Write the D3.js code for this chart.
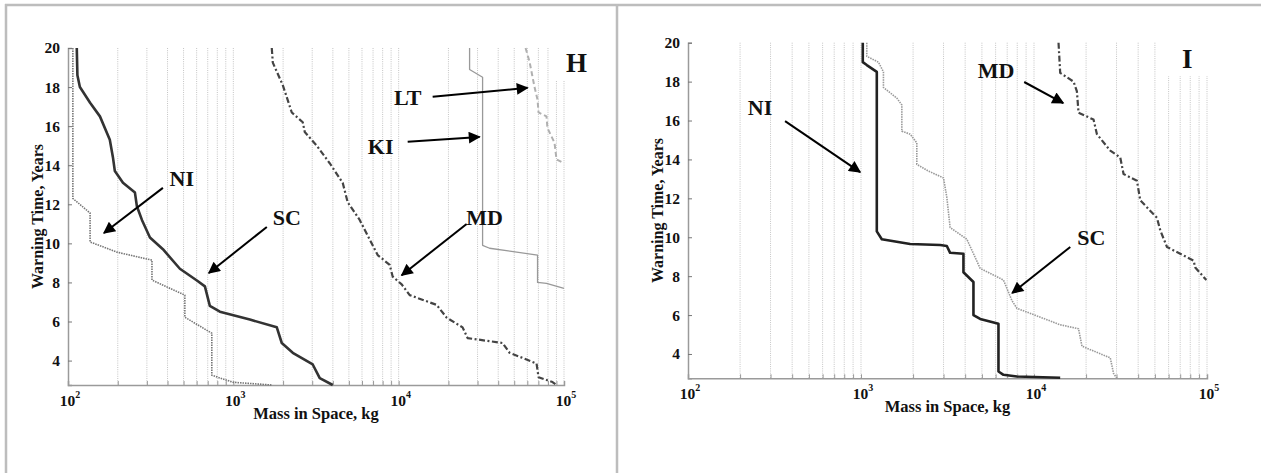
<!DOCTYPE html>
<html>
<head>
<meta charset="utf-8">
<script src="https://cdn.jsdelivr.net/npm/d3@7"></script>
<style>
  body { margin: 0; background: #fff; }
  svg { display: block; }
  text { font-family: "Liberation Serif", "Times New Roman", serif; font-weight: bold; fill: #111; }
</style>
</head>
<body>
<svg id="chart" width="1261" height="473"></svg>
<script>
// [mass in space (kg), warning time (years)]

// panel H
const hSC = [[113,20],[114,18.6],[118,18.0],[136,17.2],[156,16.5],[179,15.3],[187,14.4],[192,13.7],[215,13.1],[254,12.6],[261,11.9],[280,11.2],[313,10.3],[375,9.7],[475,8.7],[602,8.1],[673,7.8],[721,6.8],[829,6.5],[1258,6.1],[1832,5.7],[1963,4.9],[2288,4.4],[3022,3.8],[3332,3.1],[3992,2.75]]
const hNI = [[107,20],[107,12.3],[136,11.55],[136,10.07],[198,9.55],[322,9.14],[322,8.12],[509,7.35],[509,6.22],[741,5.4],[741,3.25],[993,2.89],[1708,2.75]]
const hMD = [[1708,20],[1733,19.25],[1991,18.1],[2257,16.7],[2630,16.2],[2704,15.7],[3195,15.0],[3829,14.1],[4587,13.1],[4918,12.1],[5812,11.2],[6230,10.7],[7466,9.4],[8823,8.9],[9198,8.3],[10430,7.9],[11660,7.35],[16970,6.85],[19500,6.2],[24360,5.7],[26120,5.15],[42480,4.9],[46860,4.4],[68220,3.85],[70150,3.15],[85200,2.9],[90100,2.75]]
const hKI = [[26850,20],[26850,18.9],[32180,18.5],[32180,9.9],[35460,9.75],[69180,9.4],[69180,8.0],[78360,7.95],[100000,7.7]]
const hLT = [[58550,20],[61880,19.3],[66330,18.0],[69180,17.35],[70150,16.7],[78360,16.5],[79440,15.9],[87600,15.15],[90100,14.3],[100000,14.1]]

// panel I
const iNI = [[1024,20],[1024,19.0],[1080,18.85],[1234,18.5],[1234,10.3],[1319,9.9],[1923,9.65],[2868,9.6],[3134,9.55],[3275,9.2],[3910,9.15],[3910,8.2],[4467,7.7],[4467,6.0],[4885,5.8],[6232,5.55],[6232,3.1],[6662,2.93],[7963,2.84],[14170,2.78]]
const iSC = [[1080,20],[1080,19.3],[1261,19.0],[1348,18.5],[1348,17.7],[1611,17.15],[1722,16.8],[1722,15.45],[1923,15.3],[2102,14.85],[2102,13.75],[2454,13.4],[2998,13.05],[3134,12.05],[3275,10.5],[4091,9.9],[4885,8.4],[6662,7.8],[7451,6.75],[7963,6.35],[14170,5.5],[18090,5.3],[18930,4.4],[27590,3.8],[28830,3.0],[30170,2.75]]
const iMD = [[13860,20],[14170,18.45],[16930,18.0],[17700,17.5],[18090,16.4],[22080,16.05],[23110,15.3],[27590,14.45],[31520,14.1],[32940,13.25],[39370,12.9],[41130,11.9],[51380,11.0],[53700,10.35],[58710,9.5],[83630,8.8],[85540,8.45],[99100,7.8]]

const yTicks = [4, 6, 8, 10, 12, 14, 16, 18, 20]
const xDecades = [1e2, 1e3, 1e4, 1e5]
const yDomain = [2.75, 20]
const xDomain = [1e2, 1e5]

// annotations: label at [mass, years], arrow from -> to
const hNotes = [
  { text: "NI", at: [488, 13.35], from: [375, 12.84], to: [165, 10.53] },
  { text: "SC", at: [2105, 11.35], from: [1594, 10.84], to: [711, 8.48] },
  { text: "MD", at: [33080, 11.35], from: [25760, 10.99], to: [10430, 8.37] },
  { text: "LT", at: [11340, 17.5], from: [16050, 17.5], to: [60190, 17.96] },
  { text: "KI", at: [7783, 14.99], from: [11340, 15.2], to: [30860, 15.45] }
]
const iNotes = [
  { text: "NI", at: [261, 16.69], from: [364, 15.97], to: [988, 13.35] },
  { text: "MD", at: [6045, 18.59], from: [8777, 17.98], to: [14750, 16.9] },
  { text: "SC", at: [21420, 10.01], from: [16200, 9.5], to: [7479, 7.13] }
]

const styles = {
  scH: { stroke: "#333", width: 2.6 },
  niH: { stroke: "#777", width: 1.6, dash: "1.5,1" },
  md:  { stroke: "#444", width: 2.2, dash: "6,2.5,2,2.5" },
  ki:  { stroke: "#999", width: 1.3 },
  lt:  { stroke: "#b0b0b0", width: 2, dash: "5,3" },
  niI: { stroke: "#222", width: 2.6 },
  scI: { stroke: "#999", width: 1.6, dash: "1.5,1" }
}

const panels = [
  {
    letter: "H", letterAt: [119000, 19.25],
    left: 68, right: 564, top: 48, bottom: 385,
    series: [
      { data: hNI, style: styles.niH },
      { data: hKI, style: styles.ki },
      { data: hLT, style: styles.lt },
      { data: hMD, style: styles.md },
      { data: hSC, style: styles.scH }
    ],
    notes: hNotes
  },
  {
    letter: "I", letterAt: [76910, 19.21],
    left: 688, right: 1207, top: 42.7, bottom: 378.3,
    series: [
      { data: iSC, style: styles.scI },
      { data: iMD, style: styles.md },
      { data: iNI, style: styles.niI }
    ],
    notes: iNotes
  }
]

const svg = d3.select("#chart")

svg.append("defs").append("marker")
  .attr("id", "arrow")
  .attr("viewBox", "0 0 10 10")
  .attr("refX", 9).attr("refY", 5)
  .attr("markerUnits", "userSpaceOnUse")
  .attr("markerWidth", 14).attr("markerHeight", 12)
  .attr("orient", "auto")
  .append("path").attr("d", "M0,0 L10,5 L0,10 z").attr("fill", "#000")

// frame lines of the page cells
const frame = svg.append("g").attr("stroke", "#bdbdbd").attr("stroke-width", 2.5)
frame.append("line").attr("x1", 5).attr("x2", 1261).attr("y1", 5).attr("y2", 5)
frame.append("line").attr("x1", 6).attr("x2", 6).attr("y1", 4).attr("y2", 473)
frame.append("line").attr("x1", 617).attr("x2", 617).attr("y1", 4).attr("y2", 473)

// minor tick values 200..900, 1000, 2000..
const gridVals = []
xDecades.slice(0, 3).forEach(d => { for (let k = 2; k <= 10; k++) gridVals.push(d * k) })

panels.forEach(p => {
  const x = d3.scaleLog().domain(xDomain).range([p.left, p.right])
  const y = d3.scaleLinear().domain(yDomain).range([p.bottom, p.top])
  const g = svg.append("g")

  // dotted vertical grid
  g.append("g").selectAll("line").data(gridVals).join("line")
    .attr("x1", d => x(d)).attr("x2", d => x(d))
    .attr("y1", y(20)).attr("y2", y(yDomain[0]))
    .attr("stroke", "#c4c4c4").attr("stroke-width", 1)
    .attr("stroke-dasharray", "1,1.2")

  // white box behind panel letter
  const lx = x(p.letterAt[0]), ly = y(p.letterAt[1])
  g.append("rect")
    .attr("x", lx - 23).attr("y", ly - 18)
    .attr("width", 48).attr("height", 36)
    .attr("fill", "#fff")

  // axes
  const xAxis = g.append("g").attr("transform", `translate(0,${p.bottom})`)
    .call(d3.axisBottom(x).tickValues(gridVals.filter(v => v < 1e5)).tickSize(-4).tickFormat(""))
  xAxis.select(".domain").attr("stroke", "#9a9a9a").attr("stroke-width", 1.5)
  xAxis.selectAll(".tick line").attr("stroke", "#9a9a9a")

  const yAxis = g.append("g").attr("transform", `translate(${p.left},0)`)
    .call(d3.axisLeft(y).tickValues(yTicks).tickSize(-4).tickPadding(8))
  yAxis.select(".domain").attr("stroke", "#9a9a9a").attr("stroke-width", 1.5)
  yAxis.selectAll(".tick line").attr("stroke", "#777")
  yAxis.selectAll(".tick text")
    .attr("font-size", 15.5)
    .attr("fill", "#111")

  // decade labels 10^n
  xDecades.forEach(d => {
    const t = g.append("text")
      .attr("x", x(d) + 2).attr("y", p.bottom + 21)
      .attr("text-anchor", "middle").attr("font-size", 15.5)
    t.append("tspan").text("10")
    t.append("tspan").attr("dy", -8).attr("font-size", 10).text(Math.round(Math.log10(d)))
  })

  g.append("text")
    .attr("x", (p.left + p.right) / 2).attr("y", p.bottom + 34)
    .attr("text-anchor", "middle").attr("font-size", 16.5)
    .text("Mass in Space, kg")

  g.append("text")
    .attr("transform", `translate(${p.left - 25},${(p.top + p.bottom) / 2}) rotate(-90)`)
    .attr("text-anchor", "middle").attr("font-size", 16)
    .text("Warning Time, Years")

  // curves
  const line = d3.line().x(d => x(d[0])).y(d => y(d[1]))
  p.series.forEach(s => {
    g.append("path").datum(s.data)
      .attr("d", line)
      .attr("fill", "none")
      .attr("stroke", s.style.stroke)
      .attr("stroke-width", s.style.width)
      .attr("stroke-dasharray", s.style.dash || null)
      .attr("stroke-linejoin", "round")
  })

  // annotations
  p.notes.forEach(n => {
    g.append("line")
      .attr("x1", x(n.from[0])).attr("y1", y(n.from[1]))
      .attr("x2", x(n.to[0])).attr("y2", y(n.to[1]))
      .attr("stroke", "#000").attr("stroke-width", 2)
      .attr("marker-end", "url(#arrow)")
    g.append("text")
      .attr("x", x(n.at[0])).attr("y", y(n.at[1]))
      .attr("dy", "0.35em").attr("text-anchor", "middle")
      .attr("font-size", 22).text(n.text)
  })

  g.append("text")
    .attr("x", lx).attr("y", ly).attr("dy", "0.35em")
    .attr("text-anchor", "middle").attr("font-size", 27)
    .text(p.letter)
})
</script>
</body>
</html>
